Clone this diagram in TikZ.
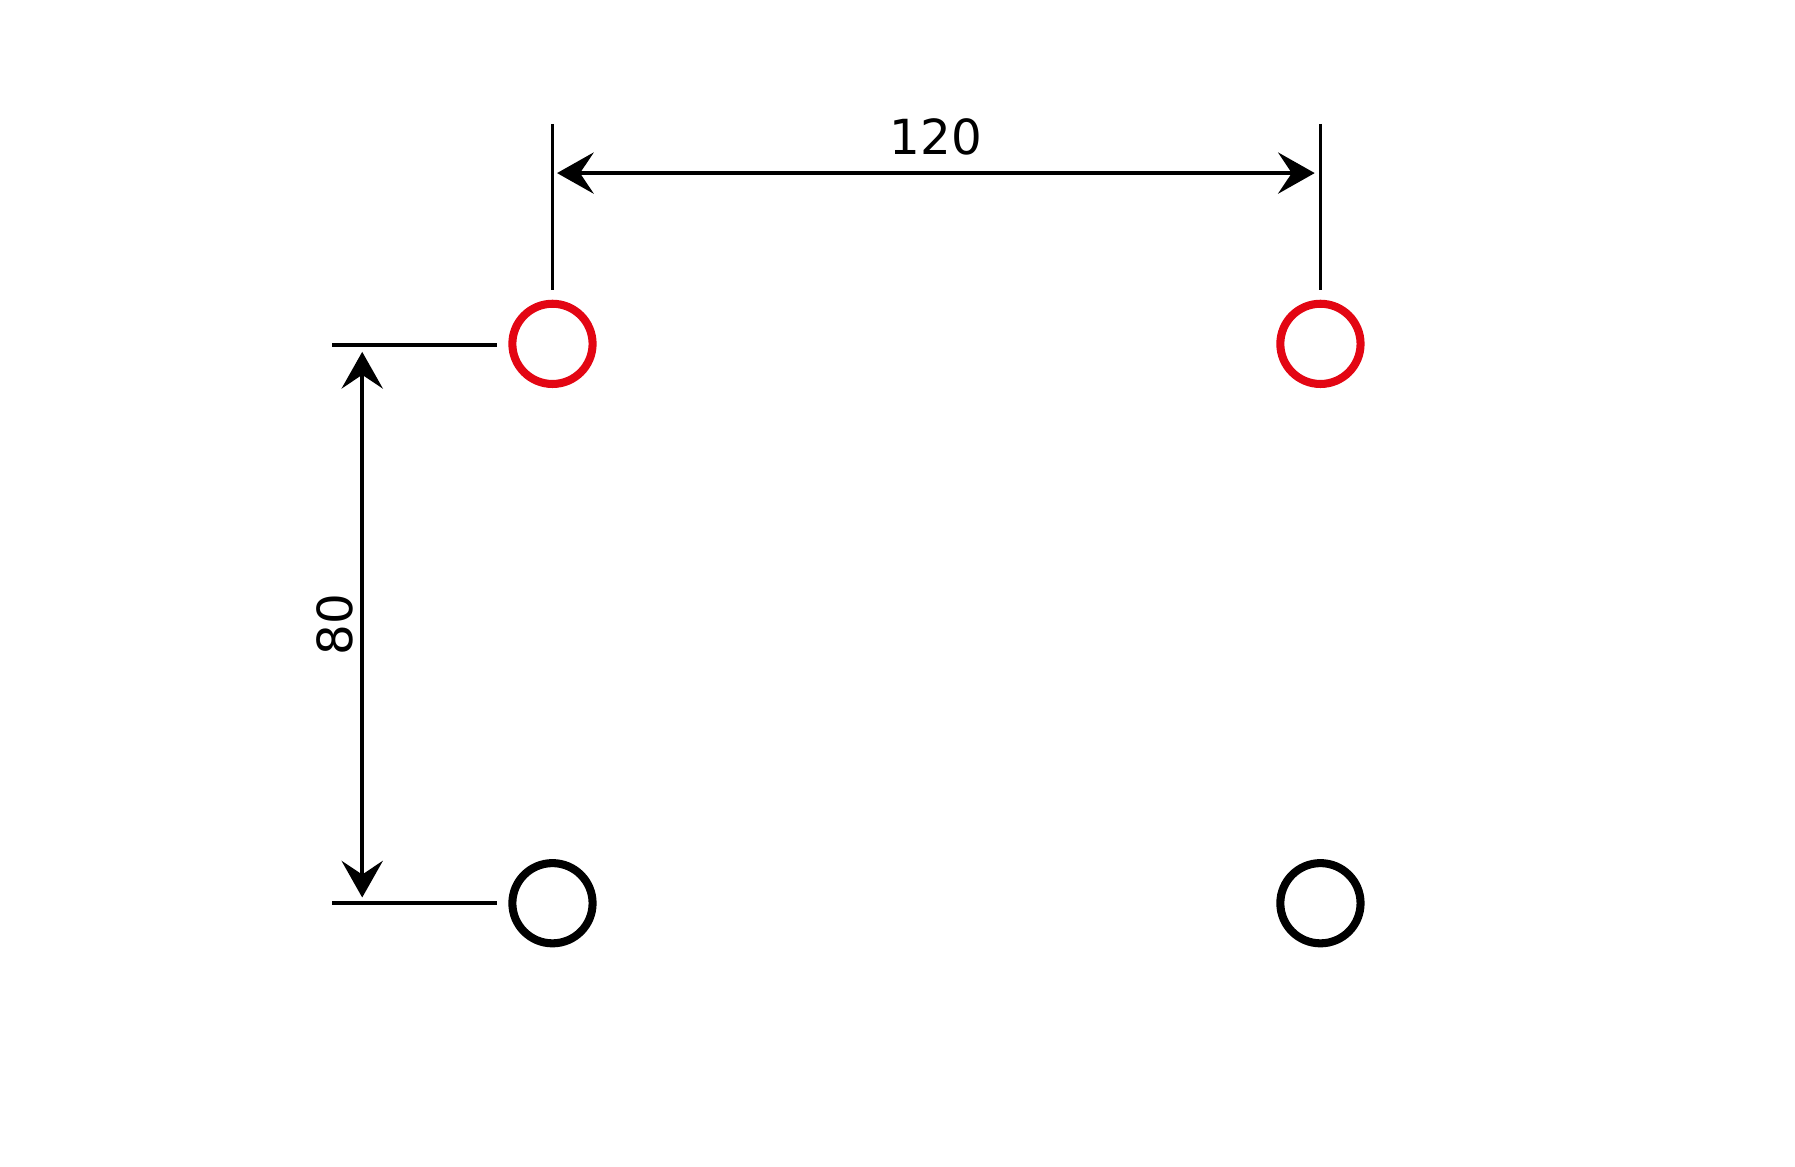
\documentclass[tikz,border=0pt]{standalone}
\usepackage{fontspec}
\setmainfont{DejaVu Sans}
\usetikzlibrary{positioning,arrows.meta}
\definecolor{holered}{HTML}{E30613}
\tikzset{
  hole/.style={circle, draw=#1, line width=2pt, minimum size=0.7cm, inner sep=0pt},
  dimline/.style={line width=0.9pt, {Stealth[length=0.32cm,width=0.36cm,inset=0.12cm]}-{Stealth[length=0.32cm,width=0.36cm,inset=0.12cm]}},
  extline/.style={line width=0.9pt},
  dimtext/.style={font=\fontsize{12}{12}\selectfont}
}
\begin{document}
\begin{tikzpicture}
\useasboundingbox (0,0) rectangle (15.66,10.18);
% holes
\node[hole=holered] (tl) at (4.82,7.18) {};
\node[hole=holered] (tr) at (11.52,7.18) {};
\node[hole=black] (bl) at (4.82,2.30) {};
\node[hole=black] (br) at (11.52,2.30) {};
% extension lines
\coordinate (tltop) at (4.82,9.10);
\coordinate (trtop) at (11.52,9.10);
\draw[extline] (tltop) -- (4.82,7.65);
\draw[extline] (trtop) -- (11.52,7.65);
\coordinate (tlleft) at (2.90,7.17);
\coordinate (blleft) at (2.90,2.30);
\draw[extline] (tlleft) -- (4.34,7.17);
\draw[extline] (blleft) -- (4.34,2.30);
% dimensions
\coordinate (ha) at (4.86,8.67);
\coordinate (hb) at (11.47,8.67);
\draw[dimline] (ha) -- node[above=0.02cm, dimtext] (w) {120} (hb);
\coordinate (va) at (3.16,7.11);
\coordinate (vb) at (3.16,2.35);
\draw[dimline] (va) -- node[dimtext, rotate=90, anchor=south, inner sep=0.06cm] (h) {80} (vb);
\end{tikzpicture}
\end{document}
